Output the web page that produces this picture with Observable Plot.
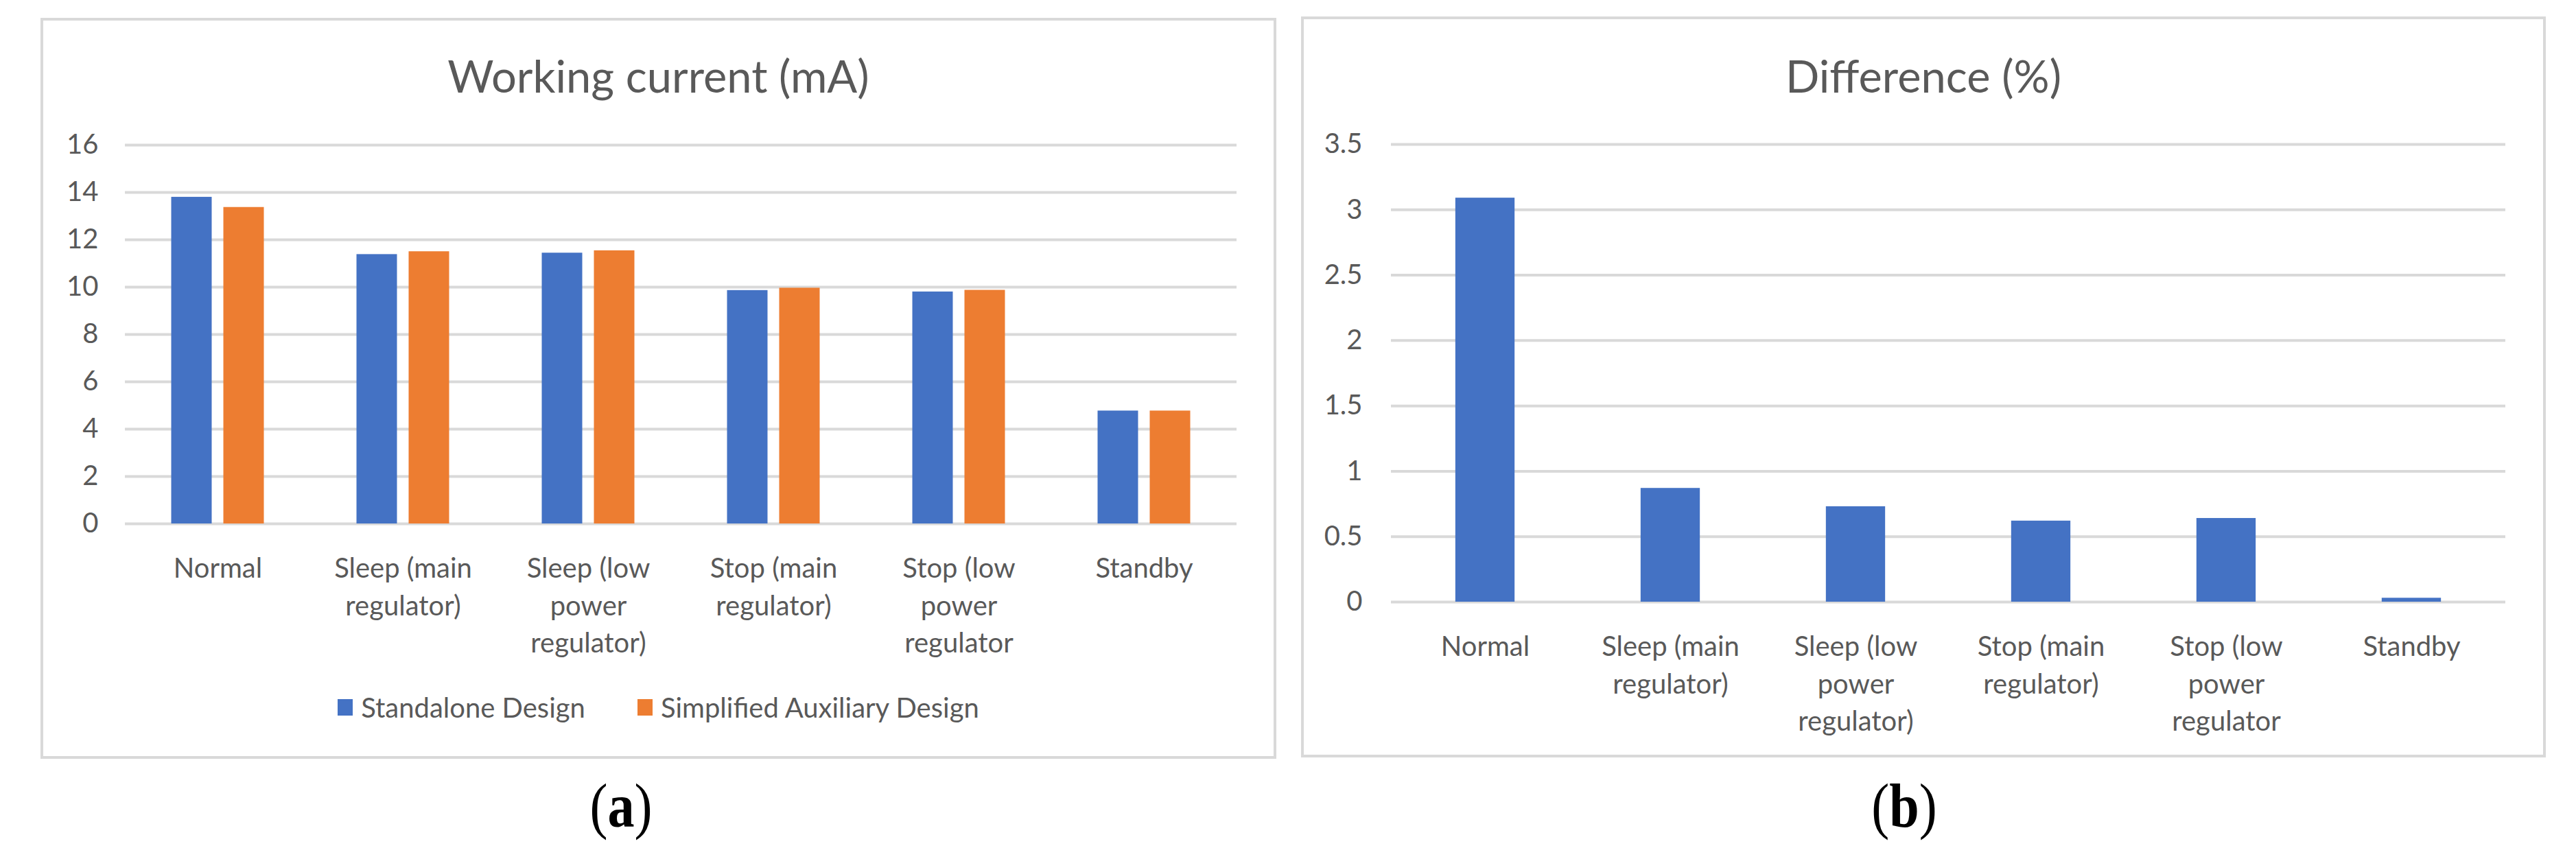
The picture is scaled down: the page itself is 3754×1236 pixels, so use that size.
<!DOCTYPE html>
<html>
<head>
<meta charset="utf-8">
<script src="https://cdn.jsdelivr.net/npm/d3@7"></script>
<script src="https://cdn.jsdelivr.net/npm/@observablehq/plot@0.6"></script>
<style>
  html, body { margin: 0; padding: 0; background: #fff; }
  #page { position: relative; width: 3754px; height: 1236px; background: #fff; overflow: hidden; font-family: Lato, "Open Sans", sans-serif; color: #595959; }
  .panel { position: absolute; box-sizing: border-box; border: 4px solid #d9d9d9; background: #fff; }
  .title { position: absolute; text-align: center; font-size: 65px; line-height: 64px; height: 64px; color: #595959; white-space: nowrap; }
  .chart { position: absolute; }
  .legend { position: absolute; display: flex; justify-content: center; align-items: center; font-size: 40px; line-height: 48px; color: #595959; white-space: nowrap; }
  .legend .item { display: flex; align-items: center; margin: 0 38px; }
  .legend .sw { width: 22px; height: 24px; margin-right: 12px; }
  .caption { position: absolute; text-align: center; font-family: "Liberation Serif", "DejaVu Serif", serif; font-size: 92px; line-height: 100px; color: #000; transform: scaleX(0.85); }
  .caption b { font-weight: bold; }
</style>
</head>
<body>
<div id="page">
  <div class="panel" style="left:59px; top:26px; width:1801px; height:1080px;"></div>
  <div class="panel" style="left:1896px; top:24px; width:1814px; height:1080px;"></div>
  <div class="title" style="left:61px; top:78px; width:1797px;">Working current (mA)</div>
  <div class="title" style="left:1898px; top:78px; width:1810px;">Difference (%)</div>
  <div id="chartA" class="chart" style="left:61px; top:150px;"></div>
  <div id="chartB" class="chart" style="left:1898px; top:150px;"></div>
  <div id="legendA" class="legend" style="left:61px; top:1007px; width:1797px;"></div>
  <div class="caption" style="left:805px; top:1124px; width:200px;">(<b>a</b>)</div>
  <div class="caption" style="left:2675px; top:1124px; width:200px;">(<b>b</b>)</div>
</div>
<script>
// ---- data ----
const categories = [
  "Normal",
  "Sleep (main regulator)",
  "Sleep (low power regulator)",
  "Stop (main regulator)",
  "Stop (low power regulator",
  "Standby"
];
const categoryLabels = [
  "Normal",
  "Sleep (main\nregulator)",
  "Sleep (low\npower\nregulator)",
  "Stop (main\nregulator)",
  "Stop (low\npower\nregulator",
  "Standby"
];
const seriesNames = ["Standalone Design", "Simplified Auxiliary Design"];
const seriesColors = ["#4472C4", "#ED7D31"];
const standalone = [13.8, 11.38, 11.44, 9.86, 9.8, 4.77];
const simplified = [13.37, 11.5, 11.54, 9.96, 9.87, 4.77];
const difference = [3.09, 0.87, 0.73, 0.62, 0.64, 0.03];
const ticksA = [0, 2, 4, 6, 8, 10, 12, 14, 16];
const ticksB = [0, 0.5, 1, 1.5, 2, 2.5, 3, 3.5];

// ---- tables ----
const rowsA = categories.map((c, i) => ({cat: c, s: standalone[i], o: simplified[i]}));
const rowsB = categories.map((c, i) => ({cat: c, d: difference[i]}));
const fmtCat = d => categoryLabels[categories.indexOf(d)];

const gridColor = "#d9d9d9";
const textStyle = {fontFamily: "Lato, 'Open Sans', sans-serif", fontSize: "40px", color: "#595959", background: "transparent", overflow: "visible"};

// ---- chart A ----
const wA = 1797, mLA = 121, mRA = 56;
const bwA = (wA - mLA - mRA) / categories.length;
const barW = 59, gapW = 17;
const offA = (bwA - (2 * barW + gapW)) / 2;
const chartA = Plot.plot({
  width: wA,
  height: 830,
  marginLeft: mLA,
  marginRight: mRA,
  marginTop: 61,
  marginBottom: 217,
  style: textStyle,
  x: {domain: categories, padding: 0, axis: null, label: null},
  y: {domain: [0, 16], axis: null, label: null},
  marks: [
    Plot.ruleY(ticksA, {stroke: gridColor, strokeWidth: 4}),
    Plot.barY(rowsA, {x: "cat", y: "s", fill: seriesColors[0], insetLeft: offA, insetRight: bwA - offA - barW}),
    Plot.barY(rowsA, {x: "cat", y: "o", fill: seriesColors[1], insetLeft: offA + barW + gapW, insetRight: offA}),
    Plot.axisY({ticks: ticksA, tickSize: 0, tickPadding: 39, tickFormat: d => String(d), fontSize: 40, label: null}),
    Plot.axisX({tickSize: 0, tickPadding: 40, tickFormat: fmtCat, lineHeight: 1.36, fontSize: 40, label: null})
  ]
});
document.getElementById("chartA").appendChild(chartA);

// ---- chart B ----
const wB = 1810, mLB = 129, mRB = 57;
const bwB = (wB - mLB - mRB) / categories.length;
const barWB = 87;
const chartB = Plot.plot({
  width: wB,
  height: 930,
  marginLeft: mLB,
  marginRight: mRB,
  marginTop: 60,
  marginBottom: 203,
  style: textStyle,
  x: {domain: categories, padding: 0, axis: null, label: null},
  y: {domain: [0, 3.5], axis: null, label: null},
  marks: [
    Plot.ruleY(ticksB, {stroke: gridColor, strokeWidth: 4}),
    Plot.barY(rowsB, {x: "cat", y: "d", fill: seriesColors[0], insetLeft: (bwB - barWB) / 2, insetRight: (bwB - barWB) / 2}),
    Plot.axisY({ticks: ticksB, tickSize: 0, tickPadding: 42, tickFormat: d => String(d), fontSize: 40, label: null}),
    Plot.axisX({tickSize: 0, tickPadding: 40, tickFormat: fmtCat, lineHeight: 1.36, fontSize: 40, label: null})
  ]
});
document.getElementById("chartB").appendChild(chartB);

// ---- legend ----
const legend = document.getElementById("legendA");
seriesNames.forEach((n, i) => {
  const item = document.createElement("div");
  item.className = "item";
  const sw = document.createElement("div");
  sw.className = "sw";
  sw.style.background = seriesColors[i];
  const t = document.createElement("span");
  t.textContent = n;
  item.appendChild(sw);
  item.appendChild(t);
  legend.appendChild(item);
});
</script>
</body>
</html>
